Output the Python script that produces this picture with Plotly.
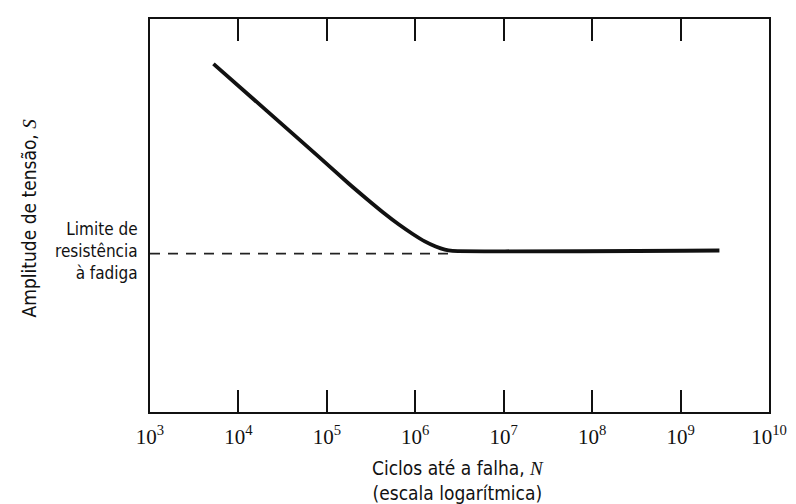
import plotly.graph_objects as go

# Data
cycles_N = [5.22e3, 2.05e4, 8.07e4, 1.75e5, 2.83e5, 4.37e5, 6.53e5, 9.35e5,
            1.28e6, 1.70e6, 2.16e6, 2.64e6, 2.75e9]
stress_S = [88.6, 76.8, 65.0, 58.2, 54.2, 50.7, 47.7, 45.3,
            43.4, 42.1, 41.3, 41.0, 41.1]
fatigue_limit_N = [1e3, 2.6e6]
fatigue_limit_S = [40.3, 40.3]
tick_vals = [1e3, 1e4, 1e5, 1e6, 1e7, 1e8, 1e9, 1e10]
tick_text = ["10<sup>3</sup>", "10<sup>4</sup>", "10<sup>5</sup>", "10<sup>6</sup>",
             "10<sup>7</sup>", "10<sup>8</sup>", "10<sup>9</sup>", "10<sup>10</sup>"]

SANS = "Liberation Sans Narrow, DejaVu Sans Condensed, Liberation Sans"

fig = go.Figure()
fig.add_trace(go.Scatter(x=fatigue_limit_N, y=fatigue_limit_S, mode="lines",
                         line=dict(color="#222", width=1.6, dash="10px,8px"),
                         showlegend=False, hoverinfo="skip"))
fig.add_trace(go.Scatter(x=cycles_N, y=stress_S, mode="lines",
                         line=dict(color="#111", width=3.8, shape="spline", smoothing=0.5),
                         showlegend=False))

fig.update_layout(
    width=788, height=496,
    margin=dict(l=142, r=22, t=9, b=92),
    paper_bgcolor="white", plot_bgcolor="white",
    xaxis=dict(type="log", range=[3, 10], tickvals=tick_vals, ticktext=tick_text,
               ticks="inside", ticklen=22, tickwidth=1.8, tickcolor="#111",
               showline=True, linewidth=2, linecolor="#111", mirror="ticks",
               showgrid=False, zeroline=False, ticklabelstandoff=5,
               tickfont=dict(family="Liberation Serif", size=21, color="#111")),
    yaxis=dict(range=[0, 100], showticklabels=False, ticks="",
               showline=True, linewidth=2, linecolor="#111", mirror=True,
               showgrid=False, zeroline=False),
    annotations=[
        dict(text="Ciclos até a falha, <i><span style='font-family:Liberation Serif'>N</span></i><br>(escala logarítmica)",
             xref="paper", yref="paper", x=0.497, y=-0.110, xanchor="center", yanchor="top",
             showarrow=False, align="center",
             font=dict(family=SANS, size=19, color="#111")),
        dict(text="Amplitude de tensão, <i><span style='font-family:Liberation Serif'>S</span></i>",
             xref="paper", yref="paper", x=-0.194, y=0.495, xanchor="center", yanchor="middle",
             textangle=-90, showarrow=False,
             font=dict(family=SANS, size=19, color="#111")),
        dict(text="Limite de<br>resistência<br>à fadiga",
             xref="paper", yref="y", x=-0.016, y=41.0, xanchor="right", yanchor="middle",
             showarrow=False, align="right",
             font=dict(family=SANS, size=17, color="#111")),
    ],
)

fig.write_html("out.html")
